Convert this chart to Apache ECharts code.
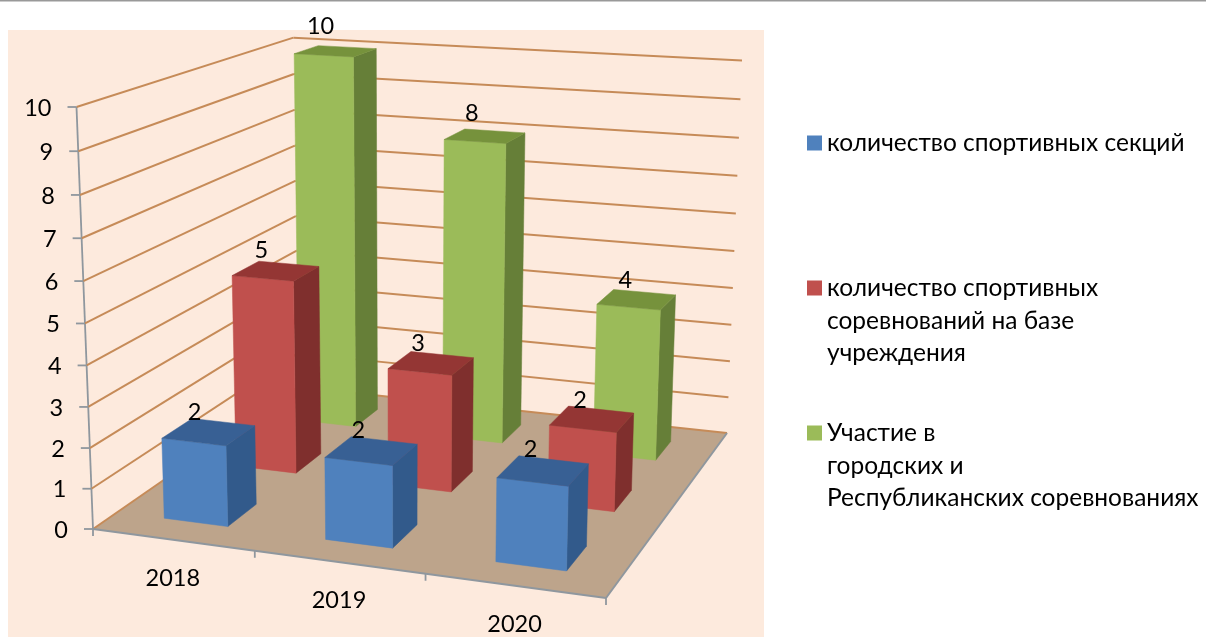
<!DOCTYPE html>
<html><head><meta charset="utf-8">
<style>html,body{margin:0;padding:0;background:#fff}#c{width:1206px;height:637px}</style>
<script src="https://cdn.jsdelivr.net/npm/echarts@6/dist/echarts.min.js"></script>
</head><body><div id="c"></div>
<script>
const categories = ['2018', '2019', '2020'];
const valueTicks = [0, 1, 2, 3, 4, 5, 6, 7, 8, 9, 10];
const sections = [2, 2, 2];
const competitions = [5, 3, 2];
const participation = [10, 8, 4];
const nameSections = 'количество спортивных секций';
const nameCompetitions = 'количество спортивных\nсоревнований на базе\nучреждения';
const nameParticipation = 'Участие в\nгородских и\nРеспубликанских соревнованиях';

// 3D scene frame: screen images of the plot box corners (layout only)
const O = [93, 529], U = [606, 598], V = [298, 387], C = [727, 433], H = [76.5, 107], T = [742, 60];
const det = (U[0]-C[0])*(V[1]-C[1]) - (V[0]-C[0])*(U[1]-C[1]);
const sx = O[0]-U[0]+C[0]-V[0], sy = O[1]-U[1]+C[1]-V[1];
const g = (sx*(V[1]-C[1]) - (V[0]-C[0])*sy) / det;
const h_ = ((U[0]-C[0])*sy - sx*(U[1]-C[1])) / det;
const cu = [U[0]-O[0]+g*U[0], U[1]-O[1]+g*U[1], g];
const cv = [V[0]-O[0]+h_*V[0], V[1]-O[1]+h_*V[1], h_];
const c0 = [O[0], O[1], 1];
const s = g + h_ + 1;
const t = (T[0]*(s-1) - C[0]*s + O[0]) / (H[0]-T[0]);
const ch = [H[0]*t-O[0], H[1]*t-O[1], t-1];
function project(u, v, w) {
  const p = [0,1,2].map(i => cu[i]*u + cv[i]*v + ch[i]*w + c0[i]);
  return [p[0]/p[2], p[1]/p[2]];
}

const GRID = {left: 100, top: 100, width: 600, height: 400};
function toU(px) { return (px - GRID.left) / GRID.width; }
function toW(py) { return (GRID.top + GRID.height - py) / GRID.height; }
const FONT = 'Lato, Carlito, "Open Sans", "Noto Sans", sans-serif';
const TXT = '#000';
const NUM_FONT = '23.5px ' + FONT;

function poly(points, fill) {
  return {type: 'polygon', shape: {points}, style: {fill, stroke: fill, lineWidth: 0.5}};
}
function barRender(depthIndex, sideColor, topColor) {
  return function (params, api) {
    const val = api.value(1);
    const pt = api.coord([api.value(0), val]);
    const uc = toU(pt[0]), w = toW(pt[1]);
    const halfU = api.size([1, 0])[0] / GRID.width * 0.2;
    const u0 = uc - halfU, u1 = uc + halfU;
    const v0 = (depthIndex + 0.3) / 3, v1 = (depthIndex + 0.7) / 3;
    const tl = project(u0, v1, w);
    return {type: 'group', children: [
      poly([project(u1,v0,0), project(u1,v1,0), project(u1,v1,w), project(u1,v0,w)], sideColor),
      poly([project(u0,v0,0), project(u1,v0,0), project(u1,v0,w), project(u0,v0,w)], api.visual('color')),
      poly([project(u0,v0,w), project(u1,v0,w), project(u1,v1,w), project(u0,v1,w)], topColor),
      {type: 'text', z2: 10, style: {
        text: String(val), x: tl[0] + 14*uc, y: tl[1] - 3 - 1.6*val,
        fill: TXT, font: NUM_FONT, align: 'center', verticalAlign: 'middle'}}
    ]};
  };
}
function barSeries(name, values, depthIndex, color, sideColor, topColor, z) {
  return {type: 'custom', name, z, silent: true, clip: false,
    itemStyle: {color},
    data: values.map((v, i) => [i, v]),
    renderItem: barRender(depthIndex, sideColor, topColor)};
}
function line(a, b, stroke, lineWidth) {
  return {type: 'line', shape: {x1: a[0], y1: a[1], x2: b[0], y2: b[1]}, style: {stroke, lineWidth}};
}
const GRIDLINE = '#c68b58', AXIS = '#8f979e', FLOOR = '#bda48b';

const option = {
  animation: false,
  backgroundColor: '#fff',
  graphic: [
    {type: 'rect', z: -10, shape: {x: 0, y: 0, width: 1206, height: 1.5}, style: {fill: '#999'}},
    {type: 'rect', z: -10, shape: {x: 8, y: 30, width: 756, height: 607}, style: {fill: '#fdeadd'}}
  ],
  grid: Object.assign({show: false}, GRID),
  xAxis: {type: 'category', data: categories, show: false},
  yAxis: {type: 'value', min: 0, max: 10, interval: 1, show: false},
  legend: [
    {data: [nameSections], left: 807, top: 127, icon: 'path://M0,8.5H15V23.5H0Z M0,0L0,0 M0,32.5L0,32.5', itemWidth: 15, itemHeight: 32.5},
    {data: [nameCompetitions], left: 807, top: 272, icon: 'path://M0,8.5H15V23.5H0Z M0,0L0,0 M0,97.5L0,97.5', itemWidth: 15, itemHeight: 97.5},
    {data: [nameParticipation], left: 807, top: 417, icon: 'path://M0,8.5H15V23.5H0Z M0,0L0,0 M0,97.5L0,97.5', itemWidth: 15, itemHeight: 97.5}
  ].map(l => Object.assign(l, {padding: 0, selectedMode: false,
    textStyle: {fontFamily: FONT, fontSize: 24.5, color: TXT, lineHeight: 32.5}})),
  series: [
    {type: 'custom', name: 'floor', z: 1, silent: true, clip: false, data: [[0, 0]],
     renderItem: () => ({type: 'polygon', shape: {points: [project(0,0,0), project(1,0,0), project(1,1,0), project(0,1,0)]}, style: {fill: FLOOR}})},
    {type: 'custom', name: 'value axis', z: 2, silent: true, clip: false,
     data: valueTicks.map(v => [0, v]),
     renderItem(params, api) {
       const v = api.value(1);
       const w = toW(api.coord([0, v])[1]);
       const a = project(0,0,w), b = project(0,1,w), c = project(1,1,w);
       const children = [
         line(a, b, GRIDLINE, 2), line(b, c, GRIDLINE, 2),
         line([a[0]-9, a[1]], a, AXIS, 1.8),
         {type: 'text', style: {text: String(v), x: a[0]-25, y: a[1]+1, fill: TXT, font: NUM_FONT, align: 'right', verticalAlign: 'middle'}}
       ];
       if (v === valueTicks[0]) children.push(line(project(0,0,0), project(0,0,1), AXIS, 1.8), line(project(0,0,0), project(1,0,0), AXIS, 2), line(project(1,0,0), project(1,1,0), AXIS, 2));
       return {type: 'group', children};
     }},
    {type: 'custom', name: 'category axis', z: 2, silent: true, clip: false,
     data: categories.map((c, i) => [i, 0]),
     renderItem(params, api) {
       const i = api.value(0);
       const uc = toU(api.coord([i, 0])[0]);
       const band = api.size([1, 0])[0] / GRID.width;
       const m = project(uc, 0, 0), e = project(uc + band/2, 0, 0), st = project(uc - band/2, 0, 0);
       const kids = [
         line(e, [e[0], e[1]+7], AXIS, 1.8),
         {type: 'text', style: {text: categories[i], x: m[0], y: m[1]+38.5, fill: TXT, font: NUM_FONT, align: 'center', verticalAlign: 'middle'}}
       ];
       if (i === 0) kids.push(line(st, [st[0], st[1]+7], AXIS, 1.8));
       return {type: 'group', children: kids};
     }},
    barSeries(nameParticipation, participation, 2, '#9bbb59', '#667f38', '#76923c', 3),
    barSeries(nameCompetitions, competitions, 1, '#c0504d', '#7f2f2d', '#943634', 4),
    barSeries(nameSections, sections, 0, '#4f81bd', '#325a8b', '#386094', 5)
  ]
};
const chart = echarts.init(document.getElementById('c'), null, {renderer: 'canvas', width: 1206, height: 637});
chart.setOption(option);
</script></body></html>
